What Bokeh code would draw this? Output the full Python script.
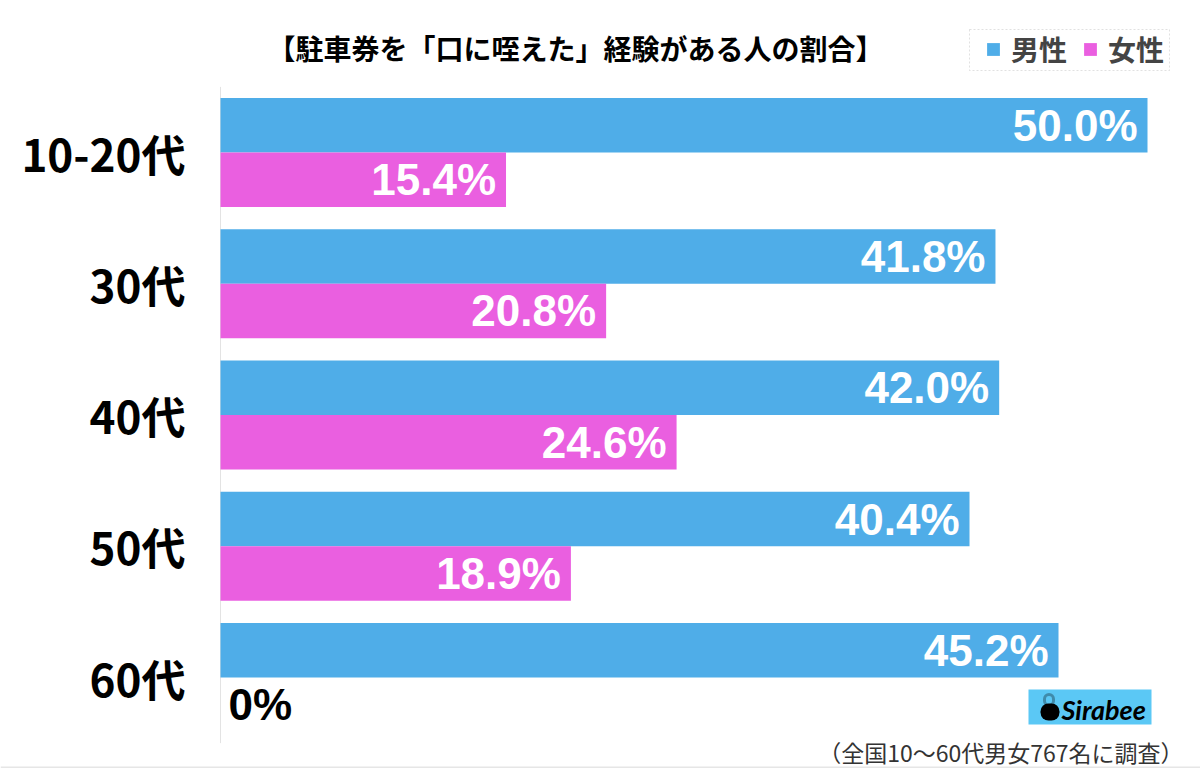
from bokeh.plotting import figure
from bokeh.models import ColumnDataSource, Range1d, Label, BoxAnnotation, Span
from bokeh.transform import dodge
from bokeh.core.properties import value
from bokeh.embed import file_html
from bokeh.resources import INLINE

# ---- data ----
categories = ["10-20代", "30代", "40代", "50代", "60代"]
male = [50.0, 41.8, 42.0, 40.4, 45.2]
female = [15.4, 20.8, 24.6, 18.9, 0.0]
series_names = ["男性", "女性"]
title_text = "【駐車券を「口に咥えた」経験がある人の割合】"
note_text = "（全国10〜60代男女767名に調査）"

BLUE = "#4FADE8"
PINK = "#EA5FE0"
JP = "Noto Sans CJK JP"
NUM = "Liberation Sans"

W, H = 1200, 768
# layout: pixel positions of the value axis (0 and 50) and of the category rows
X0_PX, X50_PX = 220, 1147
TOP_ROW_PX, BOT_ROW_PX = 152, 677
n = len(categories)
sx = (X50_PX - X0_PX) / 50.0
sy = (BOT_ROW_PX - TOP_ROW_PX) / (n - 1)
x_range = Range1d(-X0_PX / sx, (W - X0_PX) / sx)
y_range = Range1d(-(H - BOT_ROW_PX) / sy, (n - 1) + TOP_ROW_PX / sy)

ypos = [n - 1 - i for i in range(n)]

p = figure(width=W, height=H, output_backend="svg", toolbar_location=None,
           x_range=x_range, y_range=y_range, min_border=0)
p.xaxis.visible = False
p.yaxis.visible = False
p.xgrid.visible = False
p.ygrid.visible = False
p.outline_line_color = None
p.background_fill_color = "white"
p.border_fill_color = "white"

# vertical base line
p.segment(x0=[0], y0=[-0.5], x1=[0], y1=[n - 0.5], line_color="#e3e3e3", line_width=1)

BH = 0.415
OFF = 0.2075

src_m = ColumnDataSource(dict(y=ypos, v=male, lab=[f"{x:.1f}%" for x in male]))
src_f = ColumnDataSource(dict(y=ypos, v=female))
fz = [(y, v) for y, v in zip(ypos, female) if v > 0]
zz = [(y, v) for y, v in zip(ypos, female) if v == 0]
src_fl = ColumnDataSource(dict(y=[a for a, _ in fz], v=[b for _, b in fz], lab=[f"{b:.1f}%" for _, b in fz]))
src_fz = ColumnDataSource(dict(y=[a for a, _ in zz], v=[b for _, b in zz], lab=[f"{b:.0f}%" for _, b in zz]))
src_c = ColumnDataSource(dict(y=ypos, cat=categories, x=[0] * n))

p.hbar(y=dodge("y", OFF), right="v", left=0, height=BH, source=src_m,
       fill_color=BLUE, line_color=None, legend_label=series_names[0])
p.hbar(y=dodge("y", -OFF), right="v", left=0, height=BH, source=src_f,
       fill_color=PINK, line_color=None, legend_label=series_names[1])

common = dict(text_font=value(NUM), text_font_style="bold", text_font_size="44px", text_baseline="middle")
p.text(x="v", y=dodge("y", OFF), text="lab", source=src_m, x_offset=-10,
       text_align="right", text_color="white", **common)
p.text(x="v", y=dodge("y", -OFF), text="lab", source=src_fl, x_offset=-10,
       text_align="right", text_color="white", **common)
p.text(x="v", y=dodge("y", -OFF), text="lab", source=src_fz, x_offset=8,
       text_align="left", text_color="black", **common)

# category labels
p.text(x="x", y="y", text="cat", source=src_c, x_offset=-35, text_align="right",
       text_baseline="middle", text_color="black", text_font=value(JP),
       text_font_style="bold", text_font_size="44px")

# legend (items from the bars; dashed frame drawn separately)
lg = p.legend[0]
lg.orientation = "horizontal"
lg.location = (985, H - 69)
lg.glyph_width = 16
lg.glyph_height = 16
lg.label_standoff = 10
lg.spacing = 15
lg.padding = 0
lg.margin = 0
lg.label_text_font = JP
lg.label_text_font_style = "bold"
lg.label_text_font_size = "28px"
lg.label_height = 21
lg.border_line_color = None
lg.background_fill_alpha = 0
p.add_layout(BoxAnnotation(left=969, right=1169, top=H - 29, bottom=H - 70,
                           left_units="screen", right_units="screen",
                           top_units="screen", bottom_units="screen",
                           fill_alpha=0, line_color="#9a9a9a", line_dash="2 2", line_width=1))

# title
p.add_layout(Label(x=575, y=H - 47, x_units="screen", y_units="screen", text=title_text,
                   text_font=JP, text_font_style="bold", text_font_size="28px",
                   text_align="center", text_baseline="middle", text_color="black"))
# footnote
p.add_layout(Label(x=1183, y=H - 751, x_units="screen", y_units="screen", text=note_text,
                   text_font=JP, text_font_size="23px", text_align="right",
                   text_baseline="middle", text_color="#333333"))
# bottom rule
p.add_layout(Span(location=1, location_units="screen", dimension="width",
                  line_color="#e6e6e6", line_width=2))
# logo
p.add_layout(BoxAnnotation(left=1028, right=1151, top=H - 689, bottom=H - 724,
                           left_units="screen", right_units="screen",
                           top_units="screen", bottom_units="screen",
                           fill_color="#5BC8F5", fill_alpha=1, line_color=None))
p.add_layout(BoxAnnotation(left=1040, right=1059, top=H - 703, bottom=H - 720,
                           left_units="screen", right_units="screen",
                           top_units="screen", bottom_units="screen",
                           fill_color="black", fill_alpha=1, line_color=None, border_radius=8))
p.add_layout(BoxAnnotation(left=1044, right=1053, top=H - 694, bottom=H - 705,
                           left_units="screen", right_units="screen",
                           top_units="screen", bottom_units="screen",
                           fill_alpha=0, line_color="black", line_width=3, border_radius=5))
p.add_layout(Label(x=1061, y=H - 709, x_units="screen", y_units="screen", text="Sirabee",
                   text_font="Lato", text_font_style="bold italic", text_font_size="27px",
                   text_align="left", text_baseline="middle", text_color="black"))

open("out.html", "w").write(file_html(p, INLINE))
